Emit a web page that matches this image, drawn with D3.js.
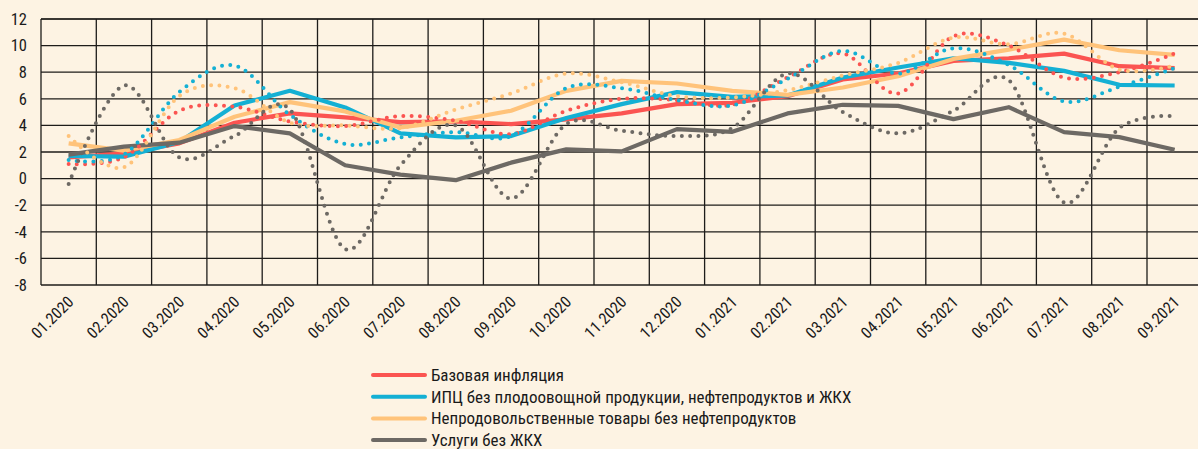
<!DOCTYPE html>
<html>
<head>
<meta charset="utf-8">
<script src="https://cdn.jsdelivr.net/npm/d3@7"></script>
<style>
  body { margin: 0; background: #fdf3e3; }
  svg { display: block; }
  text { font-family: "Liberation Sans Narrow", "Roboto Condensed", "Arial Narrow", sans-serif; fill: #1a1a1a; }
</style>
</head>
<body>
<svg id="viz" width="1198" height="449"></svg>
<script>
// months on the x axis
const months = ['01.2020','02.2020','03.2020','04.2020','05.2020','06.2020','07.2020','08.2020','09.2020','10.2020','11.2020','12.2020',
  '01.2021','02.2021','03.2021','04.2021','05.2021','06.2021','07.2021','08.2021','09.2021']
const yTicks = [-8, -6, -4, -2, 0, 2, 4, 6, 8, 10, 12]

// solid lines (3m avg, saar)
const coreInfl   = [1.6, 1.9, 2.65, 4.2, 4.9, 4.6, 4.25, 4.3, 4.1, 4.45, 4.9, 5.6, 5.7, 6.2, 7.45, 7.9, 8.85, 9.05, 9.4, 8.45, 8.3]
const cpiExcl    = [1.7, 1.65, 2.75, 5.5, 6.6, 5.35, 3.4, 3.1, 3.2, 4.55, 5.6, 6.5, 6.15, 6.25, 7.6, 8.35, 9.05, 8.7, 8.1, 7.05, 7.0]
const nonFood    = [2.65, 2.1, 2.9, 4.65, 5.75, 5.05, 3.85, 4.35, 5.1, 6.6, 7.35, 7.15, 6.6, 6.3, 6.85, 7.7, 9.0, 9.7, 10.45, 9.65, 9.3]
const services   = [1.8, 2.4, 2.7, 3.95, 3.4, 1.0, 0.3, -0.12, 1.2, 2.2, 2.05, 3.72, 3.52, 4.9, 5.55, 5.47, 4.47, 5.37, 3.5, 3.12, 2.17]

// dotted lines (monthly, saar)
const coreInflM  = [1.1, 1.6, 5.1, 5.4, 4.3, 3.95, 4.7, 4.35, 3.35, 5.1, 6.0, 5.9, 5.55, 7.6, 9.4, 6.4, 10.7, 10.0, 7.6, 8.0, 9.4]
const cpiExclM   = [1.4, 1.8, 6.5, 8.5, 4.8, 2.6, 3.1, 3.5, 3.2, 6.8, 6.8, 5.9, 5.5, 7.5, 9.6, 7.9, 9.8, 8.55, 5.8, 6.9, 8.3]
const nonFoodM   = [3.2, 0.85, 6.2, 6.8, 4.2, 4.0, 3.8, 5.2, 6.4, 7.9, 7.25, 6.2, 6.1, 6.65, 7.75, 8.7, 10.6, 10.1, 10.9, 8.2, 8.5]
const servicesM  = [-0.4, 7.0, 1.6, 3.2, 5.2, -5.3, 1.0, 4.0, -1.5, 4.1, 3.6, 3.2, 3.8, 7.9, 5.0, 3.4, 5.1, 7.4, -1.8, 3.8, 4.7]

const names = ['Базовая инфляция', 'ИПЦ без плодоовощной продукции, нефтепродуктов и ЖКХ',
  'Непродовольственные товары без нефтепродуктов', 'Услуги без ЖКХ']
const colors = ['#fb5451', '#14b0d4', '#ffc37a', '#6d6964']

const svg = d3.select('#viz')
const plotL = 41, plotT = 19, plotB = 285
const bandW = 55.3

const x = d3.scaleBand().domain(months).range([plotL, plotL + bandW * months.length])
const y = d3.scaleLinear().domain([-8, 12]).range([plotB, plotT])
const cx = d => x(d) + x.bandwidth() / 2

svg.append('rect').attr('width', 1198).attr('height', 449).attr('fill', '#fdf3e3')

// grid
let grid = svg.append('g')
grid.selectAll('.h').data(yTicks).enter().append('line')
  .attr('x1', plotL).attr('x2', 1198)
  .attr('y1', d => y(d)).attr('y2', d => y(d))
  .attr('stroke', d => d === 12 ? '#3a3733' : '#1e1c1a')
  .attr('stroke-width', d => d === 12 ? 2 : 1.3)
let edges = months.map(m => x(m)).concat([x.range()[1]])
grid.selectAll('.v').data(edges).enter().append('line')
  .attr('x1', d => d).attr('x2', d => d)
  .attr('y1', plotT).attr('y2', plotB)
  .attr('stroke', '#1e1c1a').attr('stroke-width', 1.3)

// y labels
svg.append('g').selectAll('text').data(yTicks).enter().append('text')
  .attr('x', 27).attr('y', d => y(d)).attr('dy', '0.35em')
  .attr('text-anchor', 'end').style('font-size', '16.5px')
  .text(d => d)

// x labels
svg.append('g').selectAll('text').data(months).enter().append('text')
  .attr('transform', d => `translate(${cx(d) + 2},${plotB + 14}) rotate(-45)`)
  .attr('text-anchor', 'end').attr('dy', '0.35em')
  .style('font-size', '16px')
  .text(d => d)

const solid = [coreInfl, cpiExcl, nonFood, services]
const dotted = [coreInflM, cpiExclM, nonFoodM, servicesM]

const straight = d3.line().x((d, i) => cx(months[i])).y(d => y(d))
const smooth = d3.line().x((d, i) => cx(months[i])).y(d => y(d)).curve(d3.curveCardinal.tension(0))

solid.forEach((s, k) => {
  svg.append('path').attr('d', straight(s))
    .attr('fill', 'none').attr('stroke', colors[k]).attr('stroke-width', 4.2)
    .attr('stroke-linejoin', 'round')
})
dotted.forEach((s, k) => {
  svg.append('path').attr('d', smooth(s))
    .attr('fill', 'none').attr('stroke', colors[k]).attr('stroke-width', 4)
    .attr('stroke-linecap', 'round').attr('stroke-dasharray', '0 8.3')
})

// legend
let leg = svg.append('g')
names.forEach((n, k) => {
  let ly = 375 + k * 21.7
  leg.append('line').attr('x1', 373).attr('x2', 425).attr('y1', ly).attr('y2', ly)
    .attr('stroke', colors[k]).attr('stroke-width', 4).attr('stroke-linecap', 'round')
  leg.append('text').attr('x', 431).attr('y', ly).attr('dy', '0.35em')
    .style('font-size', '17px').text(n)
})
</script>
</body>
</html>
